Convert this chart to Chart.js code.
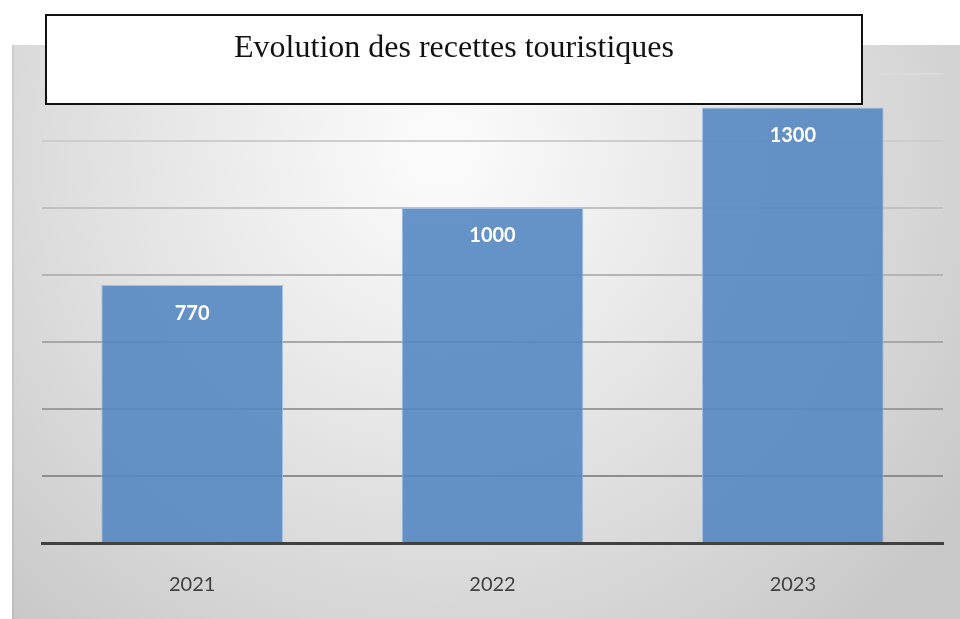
<!DOCTYPE html>
<html>
<head>
<meta charset="utf-8">
<script src="https://cdn.jsdelivr.net/npm/chart.js@4/dist/chart.umd.min.js"></script>
<style>
  html, body { margin: 0; padding: 0; background: #ffffff; }
  #wrap { width: 960px; height: 619px; position: relative; }
</style>
</head>
<body>
<div id="wrap"><canvas id="chart" width="960" height="619"></canvas></div>
<script>
const chartTitle = "Evolution des recettes touristiques";
const years = ["2021", "2022", "2023"];
const receipts = [770, 1000, 1300];
const yMax = 1400;
const yStep = 200;

// grey panel behind the plot, lighter towards the top centre
const panelBackground = {
  id: "panelBackground",
  beforeDraw(chart) {
    const c = chart.ctx;
    const x0 = 12, y0 = 45, x1 = chart.width, y1 = chart.height;
    c.save();
    const g = c.createRadialGradient(440, 150, 20, 440, 150, 640);
    g.addColorStop(0, "#fbfbfb");
    g.addColorStop(0.45, "#e5e5e5");
    g.addColorStop(1, "#c8c8c8");
    c.fillStyle = g;
    c.fillRect(x0, y0, x1 - x0, y1 - y0);
    c.fillStyle = "rgba(0,0,0,0.06)";
    c.fillRect(x0, y0, 2, y1 - y0);
    c.restore();
  }
};

// value labels inside the top of each bar
const barLabels = {
  id: "barLabels",
  afterDatasetsDraw(chart) {
    const c = chart.ctx;
    const meta = chart.getDatasetMeta(0);
    c.save();
    c.fillStyle = "#ffffff";
    c.font = "bold 20px Lato, 'Open Sans', sans-serif";
    c.textAlign = "center";
    c.textBaseline = "middle";
    meta.data.forEach((bar, i) => {
      c.fillText(String(receipts[i]), bar.x, bar.y + 28);
    });
    c.restore();
  }
};

// boxed title overlapping the panel
const boxedTitle = {
  id: "boxedTitle",
  afterDraw(chart) {
    const c = chart.ctx;
    c.save();
    c.fillStyle = "#ffffff";
    c.fillRect(46, 15, 816, 89);
    c.strokeStyle = "#111111";
    c.lineWidth = 2;
    c.strokeRect(46, 15, 816, 89);
    c.fillStyle = "#111111";
    c.font = "32px 'Liberation Serif', 'DejaVu Serif', serif";
    c.textAlign = "center";
    c.textBaseline = "alphabetic";
    c.fillText(chartTitle, 454, 57);
    c.restore();
  }
};

function gridColor(ctx) {
  const v = ctx.tick ? ctx.tick.value : 0;
  if (v === 0) return "rgba(0,0,0,0)";
  const t = (v - yStep) / (yMax - yStep);
  const shade = Math.round(142 + t * (218 - 142));
  return "rgb(" + shade + "," + shade + "," + shade + ")";
}

new Chart(document.getElementById("chart"), {
  type: "bar",
  data: {
    labels: years,
    datasets: [{
      data: receipts,
      backgroundColor: "rgba(87,136,194,0.9)",
      borderColor: "rgba(160,190,226,0.9)",
      borderWidth: 1,
      borderSkipped: "bottom",
      barPercentage: 0.605,
      categoryPercentage: 1
    }]
  },
  options: {
    responsive: false,
    animation: false,
    layout: { padding: { left: 42, right: 17, top: 74, bottom: 0 } },
    plugins: {
      legend: { display: false },
      title: { display: false },
      tooltip: { enabled: false }
    },
    scales: {
      x: {
        z: 1,
        afterFit(scale) { scale.height = 76; },
        grid: { display: false, drawTicks: false },
        border: { display: true, color: "#404040", width: 3 },
        ticks: {
          color: "#404040",
          padding: 30,
          font: { family: "Lato, 'Open Sans', sans-serif", size: 20 }
        }
      },
      y: {
        min: 0,
        max: yMax,
        ticks: { display: false, stepSize: yStep },
        grid: { color: gridColor, lineWidth: 2, drawTicks: false },
        border: { display: false }
      }
    }
  },
  plugins: [panelBackground, barLabels, boxedTitle]
});
</script>
</body>
</html>
